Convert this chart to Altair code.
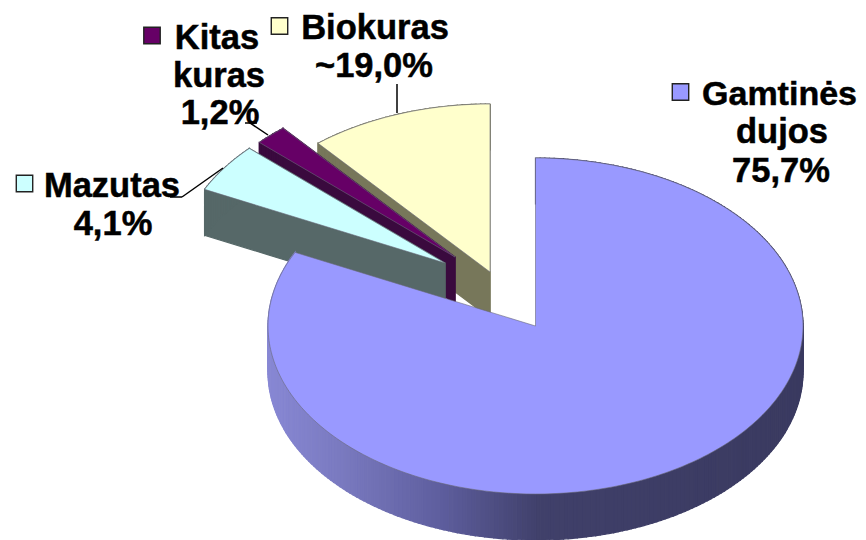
import math
import altair as alt

# ---- data ----
names = ["Gamtinės dujos", "Mazutas", "Kitas kuras", "Biokuras"]
drawn_degrees = [296, 17, 7, 40]      # sweep of each slice as drawn, clockwise from 12 o'clock
top_colors = ["#9999ff", "#ccffff", "#660066", "#ffffcc"]
wall_colors = ["#3c3c64", "#566868", "#3a0a3e", "#77775a"]
label_lines = [
    ["Gamtinės", "dujos", "75,7%"],
    ["Mazutas", "4,1%"],
    ["Kitas", "kuras", "1,2%"],
    ["Biokuras", "~19,0%"],
]

# ---- layout (page pixels, the page margin is removed below) ----
M = 8
RX, RY, DEPTH = 267.5, 168, 46
APEX = [(535.5, 326), (445, 263), (455, 257), (490, 272)]
LABEL_POS = [
    [(779.5, 105), (782, 143), (781, 182)],
    [(112, 197), (113, 235)],
    [(217, 49), (219, 87), (220, 124)],
    [(375, 39), (374, 77)],
]
KEY_POS = [(680.5, 92), (24.5, 183.5), (152, 35.5), (279.5, 26)]
LEADERS = [
    (397, 84, 397, 113), (245, 123, 257, 123), (250, 123, 268, 135),
    (170, 197, 182, 197), (182, 197, 223, 168),
]
GRAD_X = [268, 340, 440, 540, 803]
GRAD_C = [(0x88, 0x88, 0xd4), (0x7a, 0x7a, 0xc0), (0x5e, 0x5e, 0x9e), (0x40, 0x40, 0x6a), (0x3a, 0x3a, 0x60)]


def wall_color(x):
    for i in range(len(GRAD_X) - 1):
        if x <= GRAD_X[i + 1]:
            t = max(0, (x - GRAD_X[i]) / (GRAD_X[i + 1] - GRAD_X[i]))
            c = [round(GRAD_C[i][k] + t * (GRAD_C[i + 1][k] - GRAD_C[i][k])) for k in range(3)]
            return "#%02x%02x%02x" % tuple(c)
    return "#%02x%02x%02x" % GRAD_C[-1]


def feature(points, fill, stroke=None, sw=1.2):
    ring = [[x - M, y - M] for x, y in points]
    ring.append(ring[0])
    return {
        "type": "Feature",
        "geometry": {"type": "Polygon", "coordinates": [ring]},
        "properties": {"fill": fill, "stroke": stroke or fill, "sw": sw},
    }


def sector(i, start, sweep):
    cx, cy = APEX[i]
    steps = max(4, int(sweep))
    pts = []
    for s in range(steps + 1):
        a = math.radians(start + sweep * s / steps)
        pts.append((cx + RX * math.sin(a), cy - RY * math.cos(a)))
    return pts


starts = []
acc = 0
for d in drawn_degrees:
    starts.append(acc)
    acc += d

features = []
for i in [3, 2, 1, 0]:  # back to front
    arc = sector(i, starts[i], drawn_degrees[i])
    apex = APEX[i]
    ring = [apex] + arc
    # side walls of the slice
    if i != 0:
        for p, q in [(ring[-1], apex), (apex, ring[1])]:
            features.append(feature([p, q, (q[0], q[1] + DEPTH), (p[0], p[1] + DEPTH)], wall_colors[i]))
    for p, q in zip(arc[:-1], arc[1:]):
        col = wall_color((p[0] + q[0]) / 2) if i == 0 else wall_colors[i]
        features.append(feature([p, q, (q[0], q[1] + DEPTH), (p[0], p[1] + DEPTH)], col))
    features.append(feature(ring, top_colors[i], "#6a6a7a", 0.6))

pie = (
    alt.Chart(alt.Data(values=features))
    .mark_geoshape()
    .encode(
        fill=alt.Fill("properties.fill:N", scale=None),
        stroke=alt.Stroke("properties.stroke:N", scale=None),
        strokeWidth=alt.StrokeWidth("properties.sw:Q", scale=None),
    )
    .project(type="identity", scale=1, translate=[0, 0])
)

layers = [pie]
for x1, y1, x2, y2 in LEADERS:
    layers.append(
        alt.Chart(alt.Data(values=[{"a": 1}]))
        .mark_rule(color="#000000", strokeWidth=1.5)
        .encode(x=alt.value(x1 - M), y=alt.value(y1 - M), x2=alt.value(x2 - M), y2=alt.value(y2 - M))
    )
for i in range(len(names)):
    layers.append(
        alt.Chart(alt.Data(values=[{"n": names[i]}]))
        .mark_square(size=270, fill=top_colors[i], stroke="#222222", strokeWidth=1.4, opacity=1)
        .encode(x=alt.value(KEY_POS[i][0] - M), y=alt.value(KEY_POS[i][1] - M))
    )
    for line, (x, y) in zip(label_lines[i], LABEL_POS[i]):
        layers.append(
            alt.Chart(alt.Data(values=[{"t": line}]))
            .mark_text(font="Liberation Sans", fontWeight="bold", fontSize=34.5 if line != "Gamtinės" else 34,
                       color="#000000", stroke="#000000", strokeWidth=0.5,
                       align="center", baseline="alphabetic")
            .encode(text="t:N", x=alt.value(x - M), y=alt.value(y - M))
        )

chart = (
    alt.layer(*layers)
    .properties(width=850, height=532, padding=0, autosize=alt.AutoSizeParams(type="none"))
    .configure_view(stroke=None)
)
chart.save("out.html", embed_options={"renderer": "svg", "actions": False})
